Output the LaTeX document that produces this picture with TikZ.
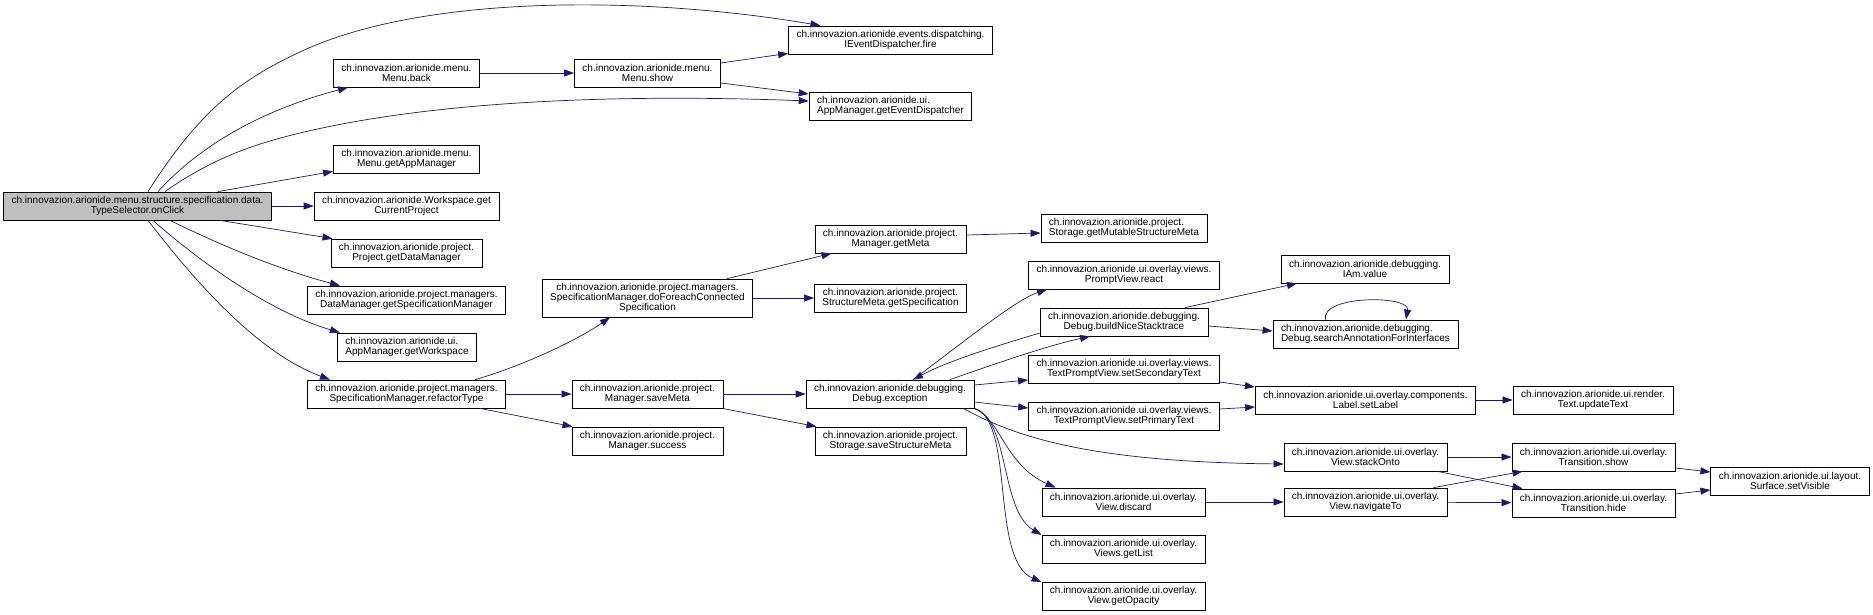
\documentclass[tikz,border=0pt]{standalone}
\usepackage{fontspec}
\setmainfont{Liberation Sans}
\usetikzlibrary{arrows.meta}
\definecolor{edgeblue}{HTML}{191970}
\definecolor{curgray}{HTML}{BFBFBF}

\begin{document}
\begin{tikzpicture}[x=1pt, y=-1pt, ->, >={Triangle[length=10pt, width=7pt]}, line width=0.7pt, draw=edgeblue,
		fn/.style={draw=black, fill=white, rectangle, text=black, font=\fontsize{10}{10}\selectfont, align=center, minimum height=28pt, inner xsep=8pt, inner ysep=0pt, line width=0.8pt},
		fnl/.style={fn, align=left},
		cur/.style={fn, fill=curgray}]
		\useasboundingbox (0, 0) rectangle (1873, 615);

		% first column
		\node[cur] (onClick) at (137.5, 206) {ch.innovazion.arionide.menu.structure.specification.data.\\TypeSelector.onClick};

		% second column
		\node[fn] (back) at (406.5, 73) {ch.innovazion.arionide.menu.\\Menu.back};
		\node[fn] (getAppManager) at (406.5, 159) {ch.innovazion.arionide.menu.\\Menu.getAppManager};
		\node[fn] (getCurrentProject) at (406.5, 206) {ch.innovazion.arionide.Workspace.get\\CurrentProject};
		\node[fn] (getDataManager) at (406.5, 253) {ch.innovazion.arionide.project.\\Project.getDataManager};
		\node[fn] (getSpecManager) at (406.5, 300) {ch.innovazion.arionide.project.managers.\\DataManager.getSpecificationManager};
		\node[fnl] (getWorkspace) at (407, 347) {ch.innovazion.arionide.ui.\\AppManager.getWorkspace};
		\node[fn] (refactorType) at (406.5, 394) {ch.innovazion.arionide.project.managers.\\SpecificationManager.refactorType};

		% third column
		\node[fn] (show) at (647.5, 73) {ch.innovazion.arionide.menu.\\Menu.show};
		\node[fn, minimum height=38pt] (doForeach) at (647.5, 298) {ch.innovazion.arionide.project.managers.\\SpecificationManager.doForeachConnected\\Specification};
		\node[fn] (saveMeta) at (647.5, 394) {ch.innovazion.arionide.project.\\Manager.saveMeta};
		\node[fn] (success) at (647.5, 441) {ch.innovazion.arionide.project.\\Manager.success};

		% fourth column
		\node[fn] (fire) at (890.5, 40) {ch.innovazion.arionide.events.dispatching.\\IEventDispatcher.fire};
		\node[fnl] (getEventDispatcher) at (890.5, 106) {ch.innovazion.arionide.ui.\\AppManager.getEventDispatcher};
		\node[fn] (getMeta) at (890.5, 239) {ch.innovazion.arionide.project.\\Manager.getMeta};
		\node[fn] (getSpecification) at (890.5, 298) {ch.innovazion.arionide.project.\\StructureMeta.getSpecification};
		\node[fn] (exception) at (890, 394) {ch.innovazion.arionide.debugging.\\Debug.exception};
		\node[fn] (saveStructureMeta) at (890.5, 441) {ch.innovazion.arionide.project.\\Storage.saveStructureMeta};

		% fifth column
		\node[fnl] (getMutable) at (1124, 228) {ch.innovazion.arionide.project.\\Storage.getMutableStructureMeta};
		\node[fn] (react) at (1124, 275) {ch.innovazion.arionide.ui.overlay.views.\\PromptView.react};
		\node[fn] (buildNice) at (1124, 322) {ch.innovazion.arionide.debugging.\\Debug.buildNiceStacktrace};
		\node[fn] (setSecondary) at (1124, 369) {ch.innovazion.arionide.ui.overlay.views.\\TextPromptView.setSecondaryText};
		\node[fn] (setPrimary) at (1124, 416) {ch.innovazion.arionide.ui.overlay.views.\\TextPromptView.setPrimaryText};
		\node[fn] (discard) at (1123.5, 502) {ch.innovazion.arionide.ui.overlay.\\View.discard};
		\node[fn] (getList) at (1123.5, 549) {ch.innovazion.arionide.ui.overlay.\\Views.getList};
		\node[fn] (getOpacity) at (1123.5, 596) {ch.innovazion.arionide.ui.overlay.\\View.getOpacity};

		% sixth column
		\node[fn] (IAmValue) at (1365, 269) {ch.innovazion.arionide.debugging.\\IAm.value};
		\node[fnl] (searchAnnot) at (1365.5, 334) {ch.innovazion.arionide.debugging.\\Debug.searchAnnotationForInterfaces};
		\node[fn] (setLabel) at (1365.5, 400) {ch.innovazion.arionide.ui.overlay.components.\\Label.setLabel};
		\node[fn] (stackOnto) at (1365.5, 457) {ch.innovazion.arionide.ui.overlay.\\View.stackOnto};
		\node[fn] (navigateTo) at (1365.5, 502) {ch.innovazion.arionide.ui.overlay.\\View.navigateTo};

		% seventh and eighth column
		\node[fn] (updateText) at (1593, 400) {ch.innovazion.arionide.ui.render.\\Text.updateText};
		\node[fn] (transShow) at (1593.5, 457) {ch.innovazion.arionide.ui.overlay.\\Transition.show};
		\node[fn] (transHide) at (1593.5, 503) {ch.innovazion.arionide.ui.overlay.\\Transition.hide};
		\node[fn] (setVisible) at (1790, 481) {ch.innovazion.arionide.ui.layout.\\Surface.setVisible};

		% calls of onClick
		\draw ([xshift=10.5pt]onClick.north) .. controls (200, 110) and (240, 80) .. (300, 52)
			.. controls (420, -5) and (640, -5) .. ([xshift=-70pt]fire.north);
		\draw ([xshift=20.5pt]onClick.north) .. controls (205, 140) and (270, 108) .. ([xshift=-58.5pt]back.south);
		\draw ([xshift=27.5pt]onClick.north) .. controls (210, 160) and (250, 145) .. (300, 133)
			.. controls (450, 97) and (650, 95) .. ([yshift=5pt]getEventDispatcher.west);
		\draw ([xshift=80.5pt]onClick.north) -- ([yshift=2pt]getAppManager.south west);
		\draw ([xshift=32.5pt]onClick.south) .. controls (220, 245) and (280, 270) .. ([xshift=-66.5pt]getSpecManager.north);
		\draw ([xshift=15.5pt]onClick.south) .. controls (200, 262) and (270, 312) .. ([xshift=3pt]getWorkspace.north west);
		\draw ([xshift=10.5pt]onClick.south) .. controls (190, 275) and (255, 352) .. ([xshift=23pt]refactorType.north west);
		\path (onClick) edge (getCurrentProject)
			([xshift=82.5pt]onClick.south) edge ([xshift=2pt]getDataManager.north west);

		% menu
		\path (back) edge (show)
			([yshift=10pt]show.east) edge ([yshift=1pt]fire.south west)
			([yshift=-10pt]show.east) edge ([yshift=12pt]getEventDispatcher.west);

		% refactoring
		\draw ([xshift=68.5pt]refactorType.north) .. controls (510, 370) and (570, 345) .. ([xshift=-37.5pt]doForeach.south);
		\path (refactorType) edge (saveMeta)
			([xshift=-26pt]refactorType.south east) edge ([xshift=1pt]success.north west)
			([xshift=-26pt]doForeach.north east) edge ([xshift=17pt]getMeta.south west)
			(doForeach) edge (getSpecification)
			([yshift=4pt]getMeta.east) edge ([yshift=-5pt]getMutable.west)
			(saveMeta) edge (exception)
			([xshift=-1pt]saveMeta.south east) edge ([xshift=2pt]saveStructureMeta.north west);

		% debugging
		\draw ([xshift=23pt]exception.north) .. controls (960, 345) and (1015, 300) .. ([xshift=-77pt]react.south);
		\draw ([yshift=-11pt]buildNice.west) .. controls (1000, 345) and (950, 360) .. ([xshift=23pt]exception.north);
		\draw ([xshift=60pt]exception.north) .. controls (1000, 362) and (1050, 345) .. ([xshift=-34pt]buildNice.south);
		\path ([yshift=9pt]exception.east) edge ([yshift=-11pt]setSecondary.west)
			([yshift=-8pt]exception.east) edge ([yshift=8pt]setPrimary.west);
		\draw ([xshift=-11pt]exception.south east) .. controls (1020, 440) and (1100, 462) .. ([yshift=-7pt]stackOnto.west);
		\draw (exception.south east) .. controls (1000, 418) and (1005, 465) .. ([xshift=-68pt]discard.north);
		\draw (exception.south east) .. controls (1010, 420) and (1000, 510) .. ([yshift=14pt]getList.west);
		\draw (exception.south east) .. controls (1015, 420) and (990, 560) .. ([yshift=14pt]getOpacity.west);
		\path ([xshift=61pt]buildNice.north) edge ([xshift=-68pt]IAmValue.south)
			([yshift=-4pt]buildNice.east) edge ([yshift=3pt]searchAnnot.west);
		\draw ([xshift=-40pt]searchAnnot.north) .. controls (1320, 295) and (1410, 295) .. ([xshift=40.5pt]searchAnnot.north);

		% overlay
		\path ([yshift=-13pt]setSecondary.east) edge ([yshift=13pt]setLabel.west)
			([yshift=7pt]setPrimary.east) edge ([yshift=-7pt]setLabel.west)
			(setLabel) edge (updateText)
			(discard) edge (navigateTo)
			(stackOnto) edge (transShow)
			([xshift=-10pt]stackOnto.south east) edge ([xshift=11pt]transHide.north west)
			([xshift=-14pt]navigateTo.north east) edge ([xshift=11pt]transShow.south west)
			(navigateTo) edge (transHide)
			([yshift=-11pt]transShow.east) edge ([yshift=9pt]setVisible.west)
			([yshift=9pt]transHide.east) edge ([yshift=-9pt]setVisible.west);
	\end{tikzpicture}
\end{document}
